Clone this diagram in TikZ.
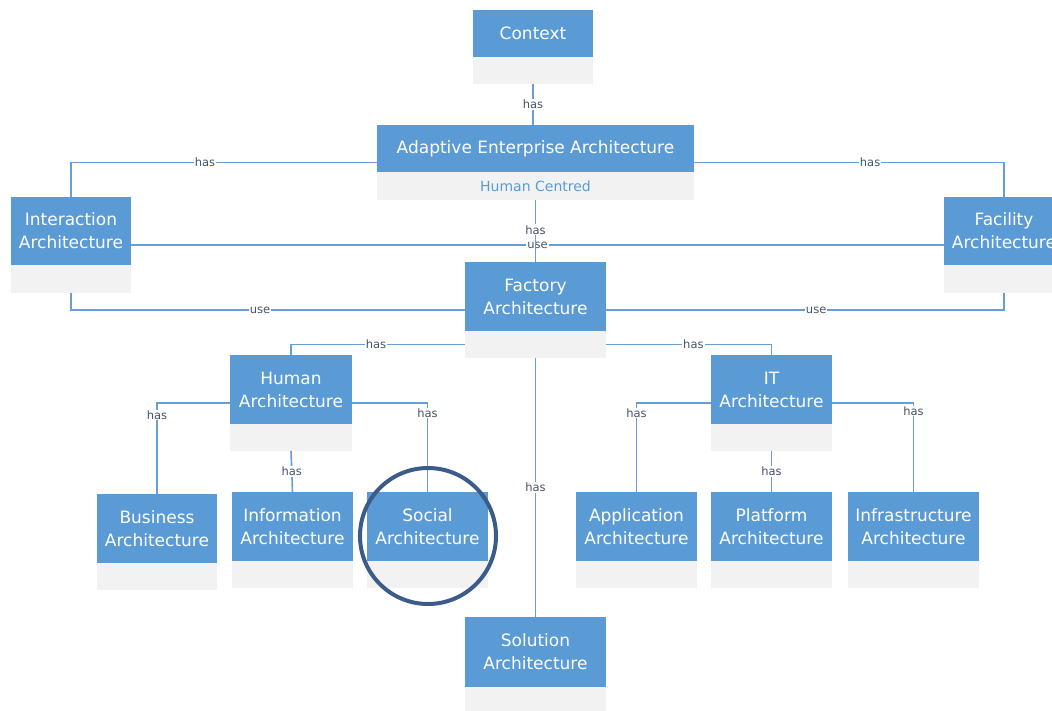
\documentclass[tikz,border=0pt]{standalone}
\usepackage{fontspec}
\setmainfont{DejaVu Sans}
\definecolor{cblue}{RGB}{91,155,213}
\definecolor{cgray}{RGB}{242,242,242}
\definecolor{cline}{RGB}{104,158,216}
\definecolor{clbl}{RGB}{68,84,106}
\definecolor{ccirc}{RGB}{60,90,138}
\tikzset{
  gbox/.style={fill=cgray, inner sep=0pt, outer sep=0pt, anchor=north west},
  bbox/.style={fill=cblue, text=white, inner sep=0pt, outer sep=0pt, anchor=north west, align=center, font=\fontsize{17}{23}\selectfont},
  gpart/.style={inner sep=0pt, outer sep=0pt, anchor=south west},
  conn/.style={draw=cline, line width=1.6pt},
  lbl/.style={fill=white, inner sep=1pt, text=clbl, font=\fontsize{11.5}{12}\selectfont},
}
% name, x1, y1, x2, y2 (end of blue), y3 (end of block), text
\newcommand\archblk[7]{%
  \node[gbox, minimum width={(#4-#2)*1pt}, minimum height={(#6-#3)*1pt}] (#1) at (#2,#3) {};
  \node[bbox, minimum width={(#4-#2)*1pt}, minimum height={(#5-#3)*1pt}] (#1t) at (#2,#3) {#7};
  \node[gpart, minimum width={(#4-#2)*1pt}, minimum height={(#6-#5)*1pt}] (#1g) at (#2,#6) {};
}
\begin{document}
\begin{tikzpicture}[x=1pt,y=-1pt]
\useasboundingbox (0,0) rectangle (1052,711);
\clip (0,0) rectangle (1052,711);
\archblk{ctx}{473}{10}{593}{57}{84}{Context}
\archblk{aea}{377}{125}{694}{172}{200}{Adaptive Enterprise Architecture}
\node[text=cblue, font=\fontsize{14}{16}\selectfont] (hc) at (aeag.center) {Human Centred};
\archblk{inter}{11}{197}{131}{265}{293}{Interaction\\Architecture}
\archblk{fac}{944}{197}{1064}{265}{293}{Facility\\Architecture}
\archblk{fab}{465}{262}{606}{331}{358}{Factory\\Architecture}
\archblk{hum}{230}{355}{352}{424}{451}{Human\\Architecture}
\archblk{it}{711}{355}{832}{424}{451}{IT\\Architecture}
\archblk{bus}{97}{494}{217}{563}{590}{Business\\Architecture}
\archblk{info}{232}{492}{353}{561}{588}{Information\\Architecture}
\archblk{soc}{367}{492}{488}{561}{588}{Social\\Architecture}
\archblk{app}{576}{492}{697}{561}{588}{Application\\Architecture}
\archblk{plat}{711}{492}{832}{561}{588}{Platform\\Architecture}
\archblk{infra}{848}{492}{979}{561}{588}{Infrastructure\\Architecture}
\archblk{sol}{465}{617}{606}{687}{714}{Solution\\Architecture}

% connectors
\draw[conn] (ctx.south) -- node[lbl, midway] {has} (ctx.south |- aea.north);
\draw[conn] (aea.west) -| node[lbl, pos=0.281] {has} (inter.north);
\draw[conn] (aea.east) -| node[lbl, pos=0.284] {has} (fac.north);
\draw[conn] (inter.east) -- node[lbl, midway] {use} (fac.west);
\draw[conn] (aea.south) -- node[lbl, pos=0.48] {has} (fab.north);
\draw[conn] (inter.south) |- node[lbl, pos=0.74] {use} (fab.west);
\draw[conn] (fac.south) |- node[lbl, pos=0.736] {use} (fab.east);
\draw[conn] (fabg.west) -| node[lbl, pos=0.256] {has} (hum.north);
\draw[conn] (fabg.east) -| node[lbl, pos=0.264] {has} (it.north);
\draw[conn] (fab.south) -- node[lbl, midway] {has} (sol.north);
\draw[conn] (hum.west) -| node[lbl, pos=0.566] {has} (bus.north);
\draw[conn] (hum.east) -| node[lbl, pos=0.556] {has} (soc.north);
\draw[conn] (hum.south) -- node[lbl, midway] {has} (info.north);
\draw[conn] (it.west) -| node[lbl, pos=0.556] {has} (app.north);
\draw[conn] (it.east) -| node[lbl, pos=0.545] {has} (infra.north);
\draw[conn] (it.south) -- node[lbl, midway] {has} (plat.north);

% highlight circle
\node[draw=ccirc, line width=4pt, circle, minimum size=136pt, inner sep=0pt] (hl) at (428,536) {};
\end{tikzpicture}
\end{document}
